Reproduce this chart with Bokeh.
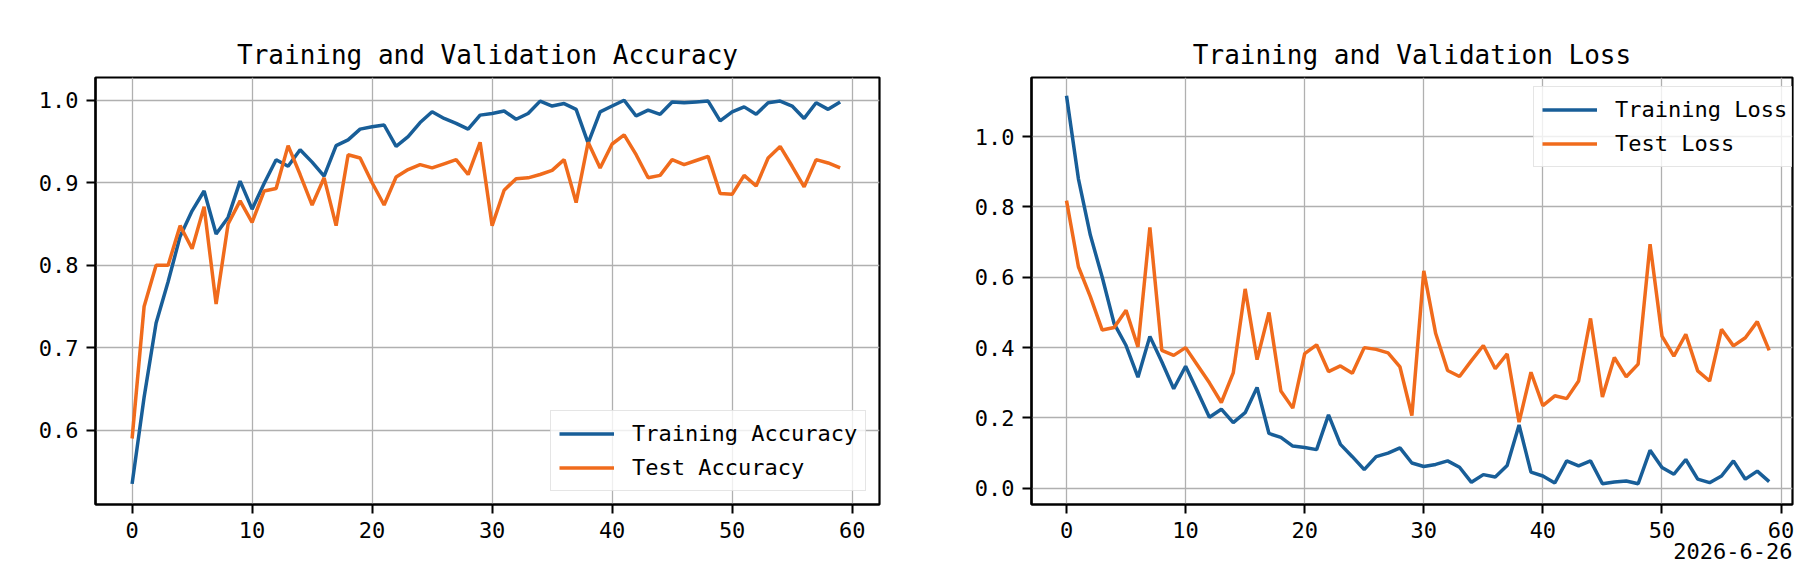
"""
training_curves.py

Side-by-side accuracy / loss curves (training vs test) of a 60-epoch run,
styled like the matplotlib report figure they were taken from.
"""

from bokeh.plotting import figure
from bokeh.models import FixedTicker, NumeralTickFormatter, Legend, LegendItem, Range1d, Title
from bokeh.layouts import row
from bokeh.embed import file_html
from bokeh.resources import INLINE

FONT = "DejaVu Sans Mono"
BLUE = "#185e98"
ORANGE = "#f06b1c"
GRID = "#b0b0b0"

# --- data ---
epochs = list(range(60))

train_acc = [0.535, 0.64, 0.73, 0.78, 0.835, 0.866, 0.89, 0.838, 0.858, 0.902,
             0.868, 0.899, 0.928, 0.92, 0.94, 0.925, 0.908, 0.945, 0.952, 0.965,
             0.968, 0.97, 0.944, 0.956, 0.973, 0.986, 0.978, 0.972, 0.965, 0.982,
             0.984, 0.987, 0.977, 0.984, 0.999, 0.993, 0.996, 0.989, 0.948, 0.986,
             0.993, 1.0, 0.981, 0.988, 0.983, 0.998, 0.997, 0.998, 0.999, 0.975,
             0.986, 0.992, 0.983, 0.997, 0.999, 0.993, 0.978, 0.997, 0.989, 0.998]

test_acc = [0.59, 0.75, 0.80, 0.80, 0.848, 0.82, 0.871, 0.753, 0.85, 0.878,
            0.852, 0.89, 0.893, 0.945, 0.91, 0.873, 0.906, 0.848, 0.934, 0.93,
            0.90, 0.873, 0.907, 0.916, 0.922, 0.918, 0.923, 0.928, 0.91, 0.949,
            0.848, 0.891, 0.905, 0.906, 0.91, 0.915, 0.928, 0.876, 0.949, 0.918,
            0.947, 0.958, 0.934, 0.906, 0.909, 0.928, 0.922, 0.927, 0.932, 0.887,
            0.886, 0.909, 0.896, 0.93, 0.944, 0.92, 0.895, 0.928, 0.924, 0.918]

train_loss = [1.116, 0.88, 0.72, 0.60, 0.468, 0.406, 0.316, 0.432, 0.36, 0.283,
              0.347, 0.275, 0.202, 0.225, 0.187, 0.215, 0.287, 0.156, 0.145, 0.12,
              0.116, 0.11, 0.209, 0.125, 0.09, 0.053, 0.09, 0.10, 0.115, 0.072,
              0.062, 0.068, 0.078, 0.06, 0.017, 0.039, 0.032, 0.065, 0.18, 0.046,
              0.035, 0.015, 0.078, 0.064, 0.078, 0.013, 0.018, 0.021, 0.013, 0.108,
              0.059, 0.04, 0.082, 0.026, 0.016, 0.035, 0.078, 0.026, 0.049, 0.019]

test_loss = [0.818, 0.63, 0.545, 0.45, 0.457, 0.506, 0.402, 0.742, 0.392, 0.378,
             0.40, 0.35, 0.30, 0.244, 0.328, 0.567, 0.366, 0.50, 0.277, 0.228,
             0.383, 0.408, 0.332, 0.348, 0.327, 0.40, 0.395, 0.385, 0.345, 0.207,
             0.618, 0.44, 0.335, 0.318, 0.363, 0.406, 0.34, 0.382, 0.188, 0.33,
             0.235, 0.263, 0.255, 0.305, 0.483, 0.26, 0.372, 0.317, 0.353, 0.694,
             0.433, 0.376, 0.438, 0.334, 0.305, 0.452, 0.405, 0.428, 0.474, 0.392]

x_ticks = [0, 10, 20, 30, 40, 50, 60]
acc_ticks = [0.6, 0.7, 0.8, 0.9, 1.0]
loss_ticks = [0.0, 0.2, 0.4, 0.6, 0.8, 1.0]

acc_names = ["Training Accuracy", "Test Accuracy"]
loss_names = ["Training Loss", "Test Loss"]
run_date = "2026-6-26"


def curve_panel(title, train, test, names, y_ticks, x_range, y_range,
                width, border_left, border_right, legend_loc):
    """One matplotlib-looking panel with a training and a test curve."""
    p = figure(width=width, height=570, title=title,
               x_range=Range1d(*x_range), y_range=Range1d(*y_range),
               output_backend="svg", toolbar_location=None,
               min_border_left=border_left, min_border_right=border_right,
               min_border_top=77, min_border_bottom=66)

    p.title.text_font = FONT
    p.title.text_font_size = "26px"
    p.title.text_font_style = "normal"
    p.title.text_color = "black"
    p.title.align = "center"
    p.title.standoff = 16

    r_train = p.line(epochs, train, line_color=BLUE, line_width=3.5)
    r_test = p.line(epochs, test, line_color=ORANGE, line_width=3.5)

    # black box round the frame, grey grid
    p.outline_line_color = "black"
    p.outline_line_width = 2.2
    p.outline_line_alpha = 1.0
    p.grid.grid_line_color = GRID
    p.grid.grid_line_width = 1.3

    p.xaxis.ticker = FixedTicker(ticks=x_ticks)
    p.yaxis.ticker = FixedTicker(ticks=y_ticks)
    p.yaxis.formatter = NumeralTickFormatter(format="0.0")
    for ax in (p.xaxis, p.yaxis):
        ax.axis_line_color = "black"
        ax.axis_line_width = 2.2
        ax.major_tick_line_color = "black"
        ax.major_tick_line_width = 2
        ax.major_tick_out = 9
        ax.major_tick_in = 0
        ax.minor_tick_line_color = None
        ax.major_label_standoff = 8
        ax.major_label_text_font = FONT
        ax.major_label_text_font_size = "22px"
        ax.major_label_text_color = "black"

    legend = Legend(
        items=[LegendItem(label=names[0], renderers=[r_train]),
               LegendItem(label=names[1], renderers=[r_test])],
        location=legend_loc,
        label_text_font=FONT, label_text_font_size="22px", label_text_color="black",
        glyph_width=55, glyph_height=29, label_height=29, label_standoff=18,
        spacing=5, padding=8, margin=0,
        border_line_color="#cccccc", border_line_width=1.3,
        background_fill_color="white", background_fill_alpha=0.8,
    )
    p.add_layout(legend)
    return p


acc_fig = curve_panel("Training and Validation Accuracy", train_acc, test_acc, acc_names,
                      acc_ticks, (-3.05, 62.28), (0.510, 1.0276),
                      width=897, border_left=95, border_right=18, legend_loc=(455, 13))

loss_fig = curve_panel("Training and Validation Loss", train_loss, test_loss, loss_names,
                       loss_ticks, (-2.94, 60.96), (-0.046, 1.168),
                       width=897, border_left=134, border_right=2, legend_loc=(502, 337))

# date stamp under the loss panel, right-aligned below the x axis
loss_fig.add_layout(Title(text=run_date, align="right", standoff=0,
                          text_font=FONT, text_font_size="22px",
                          text_font_style="normal", text_color="black"), "below")

layout = row(acc_fig, loss_fig)

if __name__ == "__main__":
    open("out.html", "w").write(file_html(layout, INLINE, title="Training curves"))
